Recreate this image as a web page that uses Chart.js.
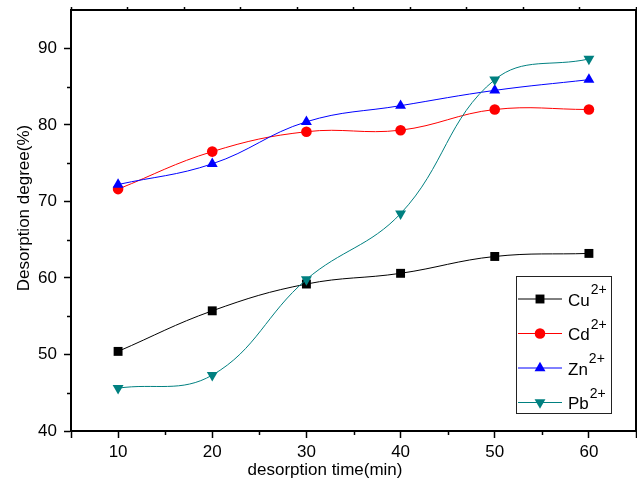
<!DOCTYPE html>
<html>
<head>
<meta charset="utf-8">
<script src="https://cdn.jsdelivr.net/npm/chart.js@4.4.1/dist/chart.umd.min.js"></script>
<style>
  html, body { margin: 0; padding: 0; background: #fff; }
</style>
</head>
<body>
<canvas id="desorptionChart" width="637" height="482"></canvas>
<script>
// desorption time (min)
const times = [10, 20, 30, 40, 50, 60];

// desorption degree (%) for each ion
const cuValues = [50.4, 55.7, 59.2, 60.6, 62.8, 63.2];
const cdValues = [71.6, 76.5, 79.1, 79.3, 82.0, 82.0];
const znValues = [72.2, 74.9, 80.4, 82.5, 84.5, 85.9];
const pbValues = [45.6, 47.3, 59.8, 68.4, 85.9, 88.6];

const ionNames = ['Cu', 'Cd', 'Zn', 'Pb'];
const ionCharge = '2+';

// labelled ticks
const xTickLabels = [10, 20, 30, 40, 50, 60];
const yTickLabels = [40, 50, 60, 70, 80, 90];

const FONT = "'Liberation Sans', Arial, Helvetica, sans-serif";

function toPoints(values) {
  return times.map((t, i) => ({ x: t, y: values[i] }));
}

function series(name, values, color, style, radius, rotation, order) {
  return {
    label: name + ionCharge,
    data: toPoints(values),
    borderColor: color,
    backgroundColor: color,
    borderWidth: 1,
    pointStyle: style,
    pointRadius: radius,
    pointRotation: rotation,
    pointBorderWidth: 0,
    pointBackgroundColor: color,
    tension: 0.4,
    order: order
  };
}

const datasets = [
  series(ionNames[0], cuValues, '#000000', 'rect', 6.3, 0, 4),
  series(ionNames[1], cdValues, '#ff0000', 'circle', 5.3, 0, 3),
  series(ionNames[2], znValues, '#0000ff', 'triangle', 6.3, 0, 2),
  series(ionNames[3], pbValues, '#008080', 'triangle', 6.3, 180, 1)
];

// scales get fixed sizes and no extra label padding, so the frame sits where the original one does
function fixSize(w, h) {
  return s => {
    if (w !== null) s.width = w;
    if (h !== null) s.height = h;
    s.paddingTop = 0;
    s.paddingBottom = 0;
    s.paddingLeft = 0;
    s.paddingRight = 0;
  };
}

// minor ticks, axis titles and the boxed legend (superscript charges)
const decorations = {
  id: 'decorations',
  afterDraw(chart) {
    const ctx = chart.ctx;
    const xs = chart.scales.x;
    const ys = chart.scales.y;
    const area = chart.chartArea;
    ctx.save();

    // minor ticks
    ctx.strokeStyle = '#000';
    ctx.lineWidth = 1.5;
    xs.ticks.forEach(t => {
      if (xTickLabels.includes(t.value) || t.value === xs.min || t.value === xs.max) return;
      const px = Math.round(xs.getPixelForValue(t.value)) + 0.5;
      ctx.beginPath();
      ctx.moveTo(px, area.bottom);
      ctx.lineTo(px, area.bottom + 4);
      ctx.stroke();
    });
    ys.ticks.forEach(t => {
      if (yTickLabels.includes(t.value) || t.value === ys.max) return;
      const py = Math.round(ys.getPixelForValue(t.value)) + 0.5;
      ctx.beginPath();
      ctx.moveTo(area.left, py);
      ctx.lineTo(area.left - 4, py);
      ctx.stroke();
    });

    // axis titles
    ctx.fillStyle = '#000';
    ctx.font = '17px ' + FONT;
    ctx.textAlign = 'center';
    ctx.textBaseline = 'alphabetic';
    ctx.fillText('desorption time(min)', 325, 475);
    ctx.save();
    ctx.translate(29, 208);
    ctx.rotate(-Math.PI / 2);
    ctx.fillText('Desorption degree(%)', 0, 0);
    ctx.restore();

    // legend box
    ctx.strokeStyle = '#222';
    ctx.lineWidth = 1;
    ctx.strokeRect(516.5, 276.5, 95, 137);
    chart.data.datasets.forEach((ds, i) => {
      const rowY = 299 + i * 34.5;
      ctx.strokeStyle = ds.borderColor;
      ctx.lineWidth = 1;
      ctx.beginPath();
      ctx.moveTo(518, rowY);
      ctx.lineTo(562, rowY);
      ctx.stroke();
      ctx.fillStyle = ds.backgroundColor;
      Chart.helpers.drawPoint(ctx, {
        pointStyle: ds.pointStyle,
        radius: ds.pointRadius,
        rotation: ds.pointRotation,
        borderWidth: 0
      }, 540, rowY);
      ctx.fillStyle = '#000';
      ctx.textAlign = 'left';
      ctx.font = '17px ' + FONT;
      const name = ionNames[i];
      ctx.fillText(name, 568, rowY + 6.5);
      const w = ctx.measureText(name).width;
      ctx.font = '14px ' + FONT;
      ctx.fillText(ionCharge, 568 + w + 1, rowY - 5);
    });
    ctx.restore();
  }
};

new Chart(document.getElementById('desorptionChart'), {
  type: 'line',
  data: { datasets: datasets },
  options: {
    responsive: false,
    animation: false,
    layout: { padding: 0, autoPadding: false },
    plugins: {
      legend: { display: false },
      tooltip: { enabled: false }
    },
    scales: {
      x: {
        type: 'linear',
        position: 'bottom',
        min: 5,
        max: 65,
        afterFit: fixSize(null, 51),
        ticks: {
          stepSize: 5,
          autoSkip: false,
          maxRotation: 0,
          color: '#000',
          padding: 4,
          font: { family: FONT, size: 17 },
          callback: v => xTickLabels.includes(v) ? String(v) : ''
        },
        grid: {
          drawOnChartArea: false,
          tickLength: 7,
          tickWidth: 1.5,
          tickColor: c => (xTickLabels.includes(c.tick.value) || c.tick.value === 5 || c.tick.value === 65) ? '#000' : 'rgba(0,0,0,0)'
        },
        border: { color: '#000', width: 2 }
      },
      x2: {
        type: 'linear',
        position: 'top',
        min: 5,
        max: 65,
        afterFit: fixSize(null, 10),
        ticks: { display: false, stepSize: 6 },
        grid: { drawOnChartArea: false, tickLength: 3, tickWidth: 1.5, tickColor: '#000' },
        border: { color: '#000', width: 2 }
      },
      y: {
        type: 'linear',
        position: 'left',
        min: 40,
        max: 95,
        afterFit: fixSize(71, null),
        ticks: {
          stepSize: 5,
          autoSkip: false,
          color: '#000',
          padding: 7,
          font: { family: FONT, size: 17 },
          callback: v => yTickLabels.includes(v) ? String(v) : ''
        },
        grid: {
          drawOnChartArea: false,
          tickLength: 7,
          tickWidth: 1.5,
          tickColor: c => yTickLabels.includes(c.tick.value) ? '#000' : 'rgba(0,0,0,0)'
        },
        border: { color: '#000', width: 2 }
      },
      y2: {
        type: 'linear',
        position: 'right',
        min: 40,
        max: 95,
        afterFit: fixSize(1, null),
        ticks: { display: false, stepSize: 5.5 },
        grid: { drawOnChartArea: false, tickLength: 3, tickWidth: 1.5, tickColor: '#000' },
        border: { color: '#000', width: 2 }
      }
    }
  },
  plugins: [decorations]
});
</script>
</body>
</html>
